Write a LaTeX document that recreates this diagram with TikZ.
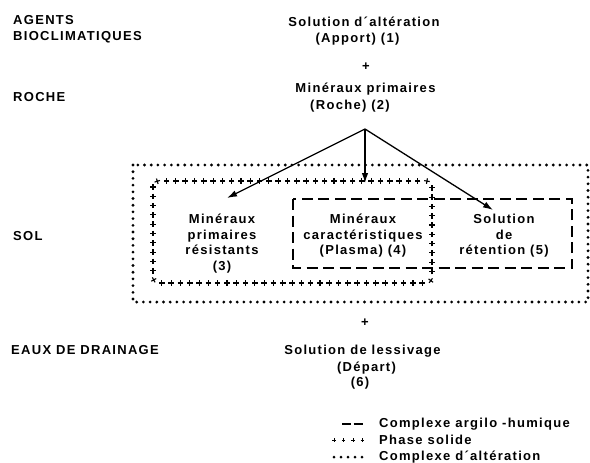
\documentclass[tikz,border=0pt]{standalone}
\usepackage{fontspec}
\setmainfont{Liberation Sans}[LetterSpace=10]
\usetikzlibrary{arrows.meta,decorations.markings}
\tikzset{
  txt/.style={inner sep=0pt, font=\fontsize{13}{16}\selectfont\bfseries, align=center},
  lbl/.style={inner sep=0pt, font=\fontsize{13}{16}\selectfont\bfseries, align=left, anchor=west},
  dotline/.style={line width=3.1pt, line cap=round, dash pattern=on 0pt off 6.7pt},
  dashline/.style={line width=1.4pt, dash pattern=on 11pt off 5.5pt},
  plusline/.style={decoration={markings, mark=between positions 0 and 1 step 9.3pt with {\draw[line width=1.1pt] (-2.8pt,0)--(2.8pt,0) (0,-2.8pt)--(0,2.8pt);}}, decorate},
  arr/.style={line width=1.3pt, -{Latex[length=10pt,width=6.5pt]}}
}
\begin{document}
\begin{tikzpicture}[x=1pt,y=-1pt]
\useasboundingbox (0,0) rectangle (590,463);
% left labels
\node[lbl] (agents) at (13,29) {AGENTS\\BIOCLIMATIQUES};
\node[lbl] (roche) at (13,97) {ROCHE};
\node[lbl] (sol) at (13,236) {SOL};
\node[lbl] (eaux) at (11,350) {EAUX DE DRAINAGE};
% top column
\node[txt] (s1a) at (364,22) {Solution d´altération};
\node[txt] (s1b) at (357.5,39) {(Apport) (1)};
\node[txt] (plus1) at (366,67) {+};
\node[txt] (m2a) at (365.5,89) {Minéraux primaires};
\node[txt] (m2b) at (350,106) {(Roche) (2)};
% boxes
\draw[dotline] (133,165) rectangle (588,302);
\path[plusline, rounded corners=6pt] (153,181) rectangle (432,283);
\draw[dashline] (293,199) rectangle (572,268);
% box texts
\node[txt, font=\fontsize{13}{15.7}\selectfont\bfseries] (b3) at (222,243.5) {Minéraux\\primaires\\résistants\\(3)};
\node[txt, font=\fontsize{13}{15.7}\selectfont\bfseries] (b4) at (363,235.7) {Minéraux\\caractéristiques\\(Plasma) (4)};
\node[txt, font=\fontsize{13}{15.7}\selectfont\bfseries] (b5) at (504,235.7) {Solution\\de\\rétention (5)};
% arrows
\coordinate (apex) at (365,129);
\coordinate (e3) at (227,198);
\coordinate (e4) at (365,183);
\coordinate (e5) at (493,210);
\draw[arr] (apex) -- (e3);
\draw[arr] (apex) -- (e4);
\draw[arr] (apex) -- (e5);
% bottom column
\node[txt] (plus2) at (365,323) {+};
\node[txt] (s6a) at (362.5,351) {Solution de lessivage};
\node[txt] (s6b) at (366.5,368) {(Départ)};
\node[txt] (s6c) at (360,383) {(6)};
% legend
\draw[line width=1.4pt, dash pattern=on 9pt off 2.5pt] (342,424) -- (363,424);
\path[decoration={markings, mark=between positions 0 and 1 step 9.5pt with {\draw[line width=0.8pt] (-1.9pt,0)--(1.9pt,0) (0,-1.9pt)--(0,1.9pt);}}, decorate] (334,440) -- (363,440);
\draw[line width=3pt, line cap=round, dash pattern=on 0pt off 7pt] (334,457) -- (363,457);
\node[lbl] (l1) at (379,424) {Complexe argilo -humique};
\node[lbl] (l2) at (379,440) {Phase solide};
\node[lbl] (l3) at (379,457) {Complexe d´altération};
\end{tikzpicture}
\end{document}
